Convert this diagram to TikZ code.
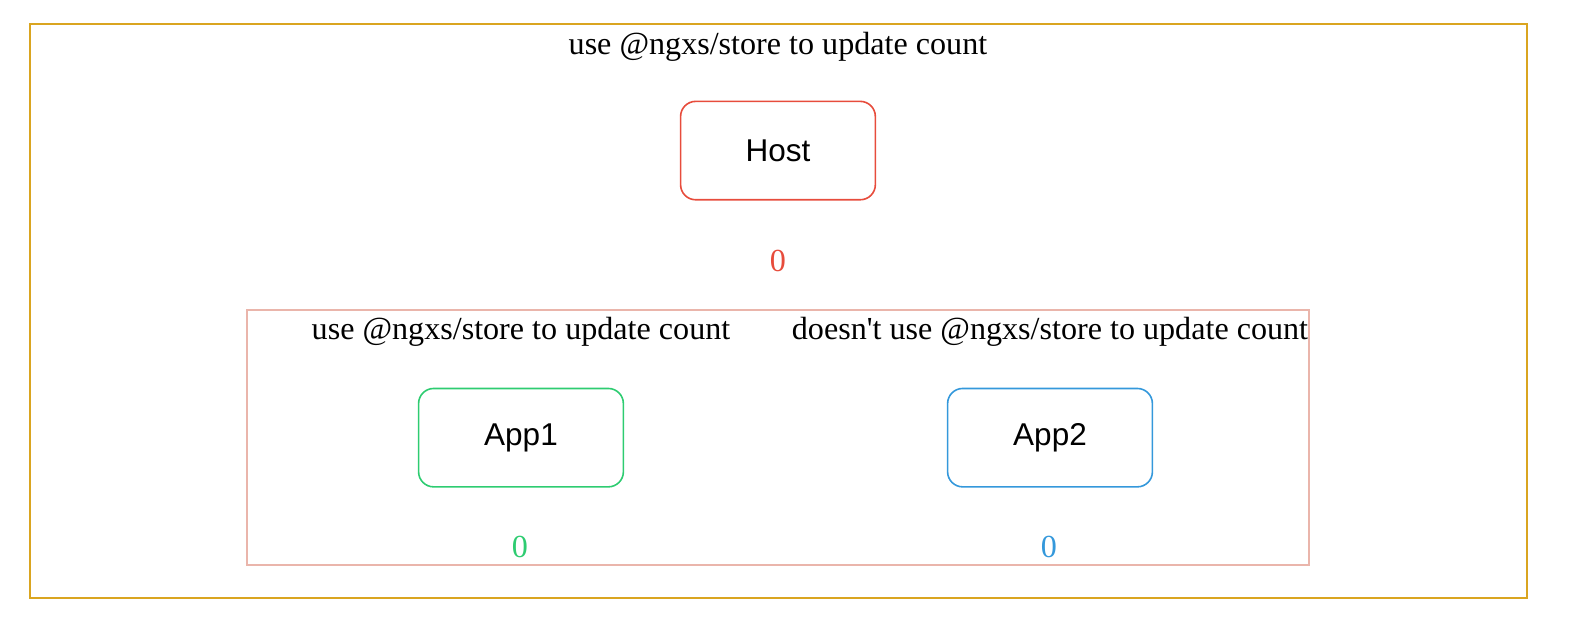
\documentclass[tikz,border=0pt]{standalone}
\usepackage{fontspec}
\setmainfont{Liberation Serif}[Ligatures=TeXOff]
\setsansfont{Liberation Sans}
\definecolor{hostred}{HTML}{E74C3C}
\definecolor{appgreen}{HTML}{2ECC71}
\definecolor{appblue}{HTML}{3498DB}
\definecolor{outerframe}{HTML}{DAA520}
\definecolor{innerframe}{HTML}{EAB5AB}
\tikzset{
  appbox/.style={draw, rounded corners=7.5bp, line width=0.8bp, minimum height=49bp, font=\sffamily\fontsize{15.7bp}{18bp}\selectfont},
  caption/.style={anchor=base, inner sep=0pt, font=\fontsize{16bp}{18bp}\selectfont},
}
\begin{document}
\begin{tikzpicture}[x=0.5bp,y=-0.5bp]
\def\w{1bp}
\useasboundingbox (0,0) rectangle (1568,631.6);
% frames
\draw [outerframe, line width=\w] (29.5,23.5) rectangle (1521.5,595.5);
\draw [innerframe, line width=\w] (246.5,308.5) rectangle (1304,563);
% titles
\node [caption, name=t0] at (775,54) {use @ngxs/store to update count};
\node [caption, name=t1] at (519,338) {use @ngxs/store to update count};
\node [caption, name=t2] at (1046,338) {doesn't use @ngxs/store to update count};
% apps
\node [appbox, hostred, text=black, minimum width=97bp, name=host] at (775,150) {Host};
\node [appbox, appgreen, text=black, minimum width=102bp, name=app1] at (519,436) {App1};
\node [appbox, appblue, text=black, minimum width=102bp, name=app2] at (1046,436) {App2};
% counts
\node [caption, hostred, name=c0] at (775,270) {0};
\node [caption, appgreen, name=c1] at (518,555) {0};
\node [caption, appblue, name=c2] at (1045,555) {0};
\end{tikzpicture}
\end{document}
